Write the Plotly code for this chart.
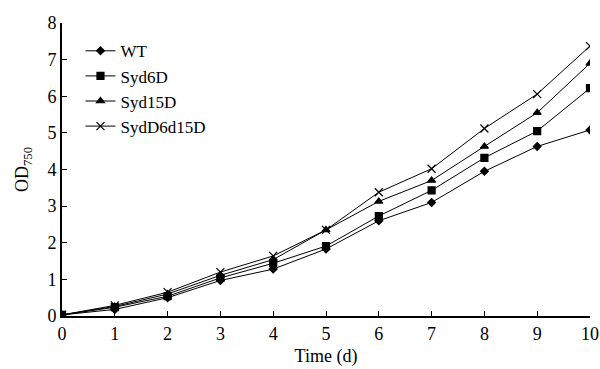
import plotly.graph_objects as go

days = [0, 1, 2, 3, 4, 5, 6, 7, 8, 9, 10]
wt = [0.03, 0.18, 0.50, 0.97, 1.28, 1.83, 2.60, 3.10, 3.95, 4.63, 5.08]
syd6d = [0.03, 0.24, 0.54, 1.04, 1.44, 1.91, 2.73, 3.43, 4.32, 5.05, 6.22]
syd15d = [0.03, 0.26, 0.60, 1.11, 1.54, 2.35, 3.13, 3.70, 4.63, 5.55, 6.90]
sydd6d15d = [0.03, 0.29, 0.65, 1.20, 1.64, 2.35, 3.38, 4.02, 5.12, 6.06, 7.37]

names = ["WT", "Syd6D", "Syd15D", "SydD6d15D"]
series = [wt, syd6d, syd15d, sydd6d15d]
symbols = ["diamond", "square", "triangle-up", "x-thin"]
sizes = [6, 7, 7, 8]

fig = go.Figure()
for n, s, sym, sz in zip(names, series, symbols, sizes):
    fig.add_trace(go.Scatter(
        x=days, y=s, name=n, mode="lines+markers",
        line=dict(color="black", width=1),
        marker=dict(symbol=sym, size=sz, color="black",
                    line=dict(color="black", width=1.2)),
    ))

font = dict(family="Liberation Serif", size=18, color="black")
lfont = dict(family="Liberation Serif", size=17, color="black")
fig.update_layout(
    width=600, height=369,
    margin=dict(l=62, r=10, t=23, b=53),
    paper_bgcolor="white", plot_bgcolor="white",
    font=font,
    showlegend=True,
    legend=dict(x=0.035, y=0.965, xanchor="left", yanchor="top",
                bgcolor="rgba(0,0,0,0)", font=lfont, tracegroupgap=0,
                itemwidth=30),
)
fig.update_xaxes(range=[0, 10], tickvals=list(range(0, 11)),
                 showline=True, linecolor="black", linewidth=2,
                 ticks="inside", ticklen=5, tickcolor="black",
                 showgrid=False, zeroline=False, automargin=False,
                 title=dict(text="Time (d)", standoff=7, font=font))
fig.update_yaxes(range=[0, 8], tickvals=list(range(0, 9)),
                 showline=True, linecolor="black", linewidth=2,
                 ticks="inside", ticklen=5, tickcolor="black",
                 showgrid=False, zeroline=False, automargin=False,
                 title=dict(text="OD<sub>750</sub>", standoff=14, font=font))

fig.write_html("out.html")
